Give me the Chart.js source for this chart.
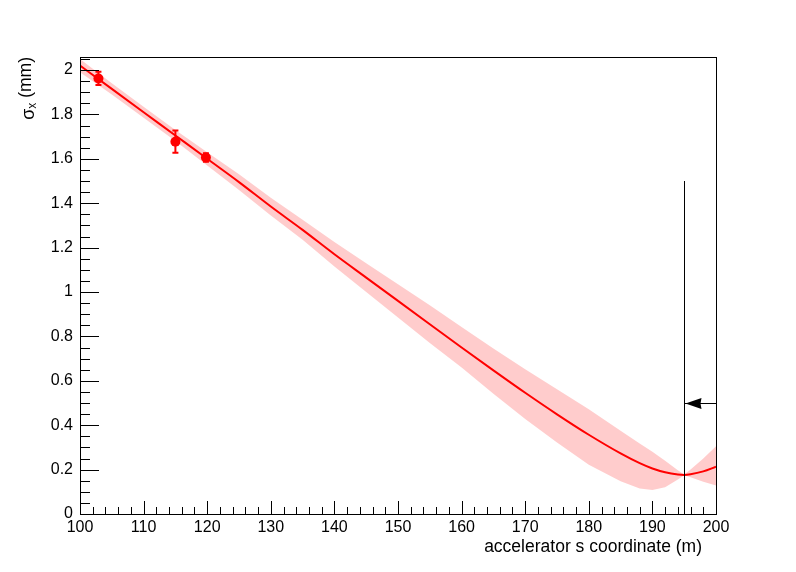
<!DOCTYPE html>
<html>
<head>
<meta charset="utf-8">
<title>sigma x vs s</title>
<script src="https://cdn.jsdelivr.net/npm/chart.js@4/dist/chart.umd.min.js"></script>
<style>
  body { margin: 0; background: #fff; }
  canvas { display: block; }
</style>
</head>
<body>
<canvas id="c" width="796" height="572"></canvas>
<script>
const sPos   = [100, 105, 110, 115, 120, 125, 130, 135, 140, 145, 150, 155, 160, 165, 170, 175, 180, 185, 188, 190, 192, 194, 195, 196, 198, 200];
const sigFit = [2.02, 1.915, 1.81, 1.705, 1.60, 1.495, 1.385, 1.28, 1.17, 1.065, 0.96, 0.855, 0.75, 0.647, 0.546, 0.449, 0.357, 0.273, 0.229, 0.205, 0.188, 0.178, 0.176, 0.179, 0.192, 0.213];
const bandHi = [2.05, 1.94, 1.835, 1.73, 1.63, 1.53, 1.425, 1.325, 1.225, 1.13, 1.035, 0.94, 0.842, 0.746, 0.652, 0.562, 0.472, 0.375, 0.318, 0.28, 0.24, 0.197, 0.178, 0.2, 0.25, 0.305];
const bandLo = [1.99, 1.89, 1.785, 1.68, 1.57, 1.46, 1.345, 1.235, 1.115, 1.00, 0.885, 0.77, 0.66, 0.542, 0.428, 0.322, 0.222, 0.148, 0.115, 0.108, 0.12, 0.155, 0.175, 0.165, 0.145, 0.128];

// measured points with errors
const measS   = [102.9, 115.0, 119.8];
const measSig = [1.962, 1.677, 1.606];
const measErr = [0.03, 0.05, 0.019];

// marker line and arrow
const cutS = 195;
const cutTop = 1.5;
const arrowY = 0.5;

const xMin = 100, xMax = 200;
const yMin = 0, yMax = 2.0586;

const FONT = '"Liberation Sans", Arial, Helvetica, sans-serif';

function pts(xs, ys) {
  return xs.map((x, i) => ({ x: x, y: ys[i] }));
}

const rootAxes = {
  id: "rootAxes",
  afterDatasetsDraw(chart) {
    const ctx = chart.ctx;
    const a = chart.chartArea;
    const xs = chart.scales.x, ys = chart.scales.y;
    ctx.save();

    // error bars
    ctx.strokeStyle = "#ff0000";
    ctx.lineWidth = 2;
    measS.forEach((s, i) => {
      const px = xs.getPixelForValue(s);
      const top = ys.getPixelForValue(measSig[i] + measErr[i]);
      const bot = ys.getPixelForValue(measSig[i] - measErr[i]);
      ctx.beginPath();
      ctx.moveTo(px, top); ctx.lineTo(px, bot);
      ctx.moveTo(px - 3, top); ctx.lineTo(px + 3, top);
      ctx.moveTo(px - 3, bot); ctx.lineTo(px + 3, bot);
      ctx.stroke();
    });

    // vertical cut line + arrow
    ctx.strokeStyle = "#000";
    ctx.fillStyle = "#000";
    ctx.lineWidth = 1;
    const cx = Math.round(xs.getPixelForValue(cutS)) + 0.5;
    ctx.beginPath();
    ctx.moveTo(cx, ys.getPixelForValue(0));
    ctx.lineTo(cx, ys.getPixelForValue(cutTop));
    ctx.stroke();
    const ay = Math.round(ys.getPixelForValue(arrowY)) + 0.5;
    ctx.beginPath();
    ctx.moveTo(xs.getPixelForValue(xMax), ay);
    ctx.lineTo(cx, ay);
    ctx.stroke();
    ctx.beginPath();
    ctx.moveTo(cx + 1, ay);
    ctx.lineTo(cx + 17, ay - 5.5);
    ctx.lineTo(cx + 16, ay);
    ctx.lineTo(cx + 17, ay + 5.5);
    ctx.closePath();
    ctx.fill();

    // frame
    ctx.strokeRect(a.left + 0.5, a.top + 0.5, a.right - a.left, a.bottom - a.top);

    // y ticks (inside), 4 subdivisions
    ctx.beginPath();
    for (let v = 0; v <= yMax + 1e-9; v += 0.05) {
      const py = Math.round(ys.getPixelForValue(v)) + 0.5;
      const major = Math.abs(v / 0.2 - Math.round(v / 0.2)) < 1e-6;
      ctx.moveTo(a.left, py);
      ctx.lineTo(a.left + (major ? 19 : 10), py);
    }
    // x ticks (inside), 5 subdivisions
    for (let v = xMin; v <= xMax + 1e-9; v += 2) {
      const px = Math.round(xs.getPixelForValue(v)) + 0.5;
      const major = Math.abs((v - xMin) % 10) < 1e-6;
      ctx.moveTo(px, a.bottom);
      ctx.lineTo(px, a.bottom - (major ? 13 : 7));
    }
    ctx.stroke();

    // axis titles
    ctx.fillStyle = "#000";
    ctx.font = "17.5px " + FONT;
    ctx.textAlign = "right";
    ctx.textBaseline = "alphabetic";
    ctx.fillText("accelerator s coordinate (m)", a.right - 14, 552);

    ctx.translate(31, a.top);
    ctx.rotate(-Math.PI / 2);
    ctx.textAlign = "left";
    ctx.font = "18px " + FONT;
    const w1 = ctx.measureText("σ").width;
    ctx.font = "12px " + FONT;
    const w2 = ctx.measureText("x").width;
    ctx.font = "17.5px " + FONT;
    const w3 = ctx.measureText(" (mm)").width;
    let u = -(w1 + w2 + w3);
    ctx.font = "18px " + FONT;
    ctx.fillText("σ", u, 3);
    u += w1;
    ctx.font = "12px " + FONT;
    ctx.fillText("x", u, 5);
    u += w2;
    ctx.font = "17.5px " + FONT;
    ctx.fillText(" (mm)", u, 0);

    ctx.restore();
  }
};

new Chart(document.getElementById("c"), {
  type: "line",
  data: {
    datasets: [
      {
        label: "band hi",
        data: pts(sPos, bandHi),
        borderWidth: 0,
        pointRadius: 0,
        fill: 1,
        backgroundColor: "rgba(255,0,0,0.2)",
        borderColor: "rgba(0,0,0,0)"
      },
      {
        label: "band lo",
        data: pts(sPos, bandLo),
        borderWidth: 0,
        pointRadius: 0,
        fill: false,
        borderColor: "rgba(0,0,0,0)"
      },
      {
        label: "fit",
        data: pts(sPos, sigFit),
        borderWidth: 2,
        borderColor: "#ff0000",
        pointRadius: 0,
        fill: false,
        cubicInterpolationMode: "monotone"
      },
      {
        label: "meas",
        data: pts(measS, measSig),
        showLine: false,
        pointRadius: 5,
        pointBackgroundColor: "#ff0000",
        pointBorderColor: "#ff0000",
        pointBorderWidth: 0
      }
    ]
  },
  options: {
    responsive: false,
    animation: false,
    devicePixelRatio: 1,
    layout: { padding: { top: 57, right: 80, left: 0, bottom: 0 } },
    plugins: { legend: { display: false }, tooltip: { enabled: false } },
    scales: {
      x: {
        type: "linear",
        min: xMin, max: xMax,
        afterFit(scale) { scale.height = 58; },
        grid: { display: false, drawTicks: false },
        border: { display: false },
        ticks: {
          stepSize: 10, autoSkip: false, maxRotation: 0, includeBounds: false,
          padding: 4, color: "#000",
          font: { family: FONT, size: 16 }
        }
      },
      y: {
        type: "linear",
        min: yMin, max: yMax,
        afterFit(scale) { scale.width = 80; },
        grid: { display: false, drawTicks: false },
        border: { display: false },
        ticks: {
          stepSize: 0.2, autoSkip: false, includeBounds: false,
          padding: 7, color: "#000",
          font: { family: FONT, size: 16 },
          callback: (v) => String(Math.round(v * 10) / 10)
        }
      }
    }
  },
  plugins: [rootAxes]
});
</script>
</body>
</html>
